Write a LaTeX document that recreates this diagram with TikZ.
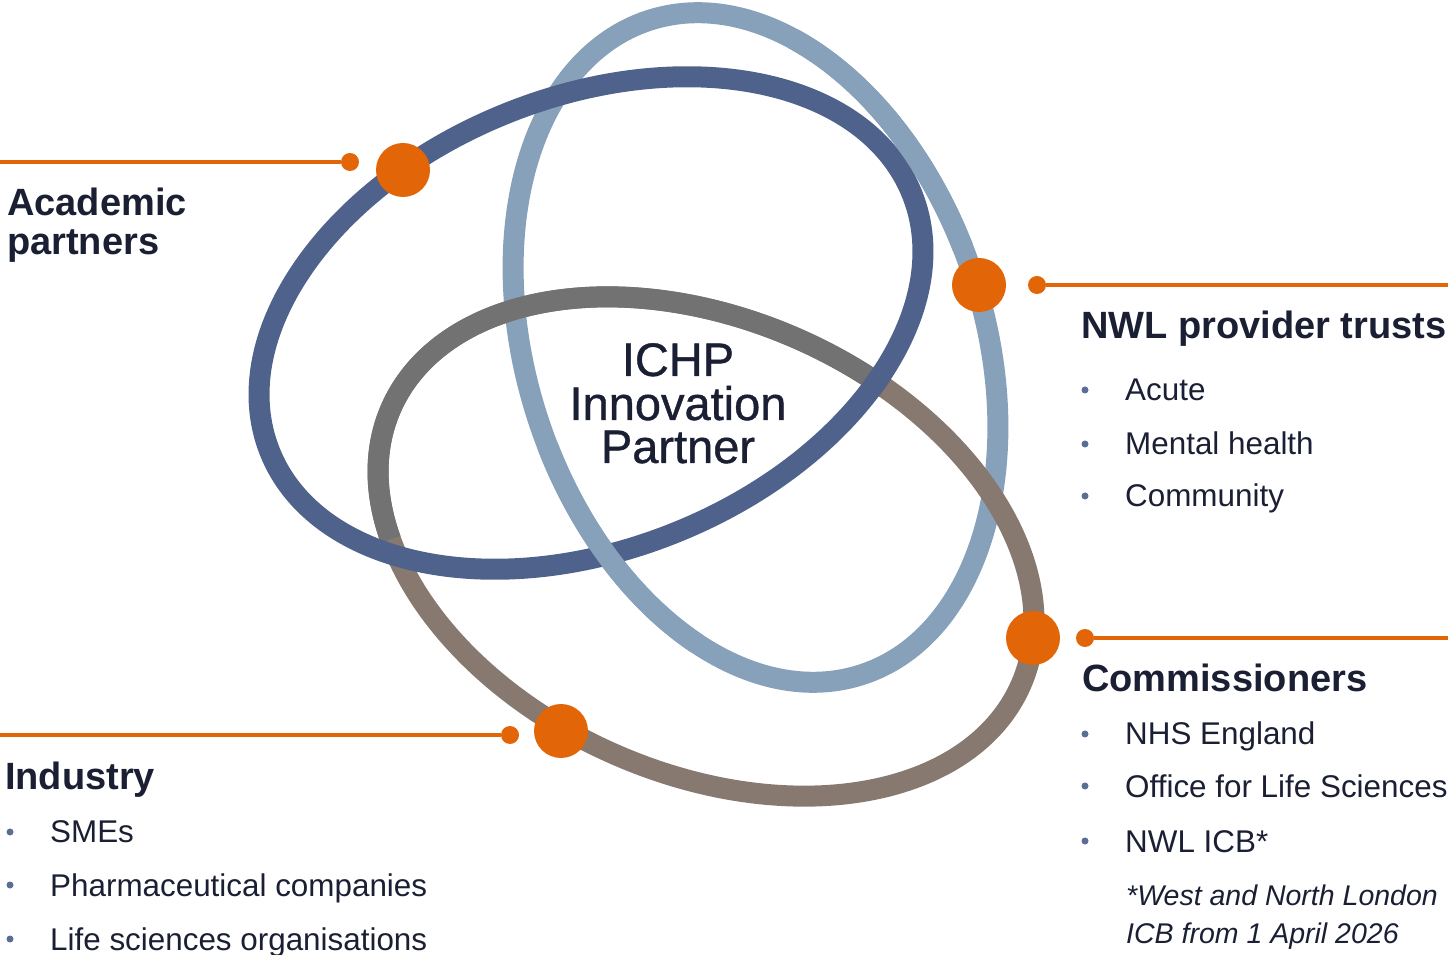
\documentclass[tikz,border=0pt]{standalone}
\usepackage{fontspec}
\setmainfont{Liberation Sans}
\newfontfamily\centrefont[FakeBold=0.8]{Liberation Sans}
\definecolor{dblue}{HTML}{4E628B}
\definecolor{lblue}{HTML}{87A1BA}
\definecolor{grayring}{HTML}{727272}
\definecolor{taupe}{HTML}{877970}
\definecolor{orng}{HTML}{E26608}
\definecolor{txt}{HTML}{1A1F33}
\definecolor{bul}{HTML}{5A6D95}
\begin{document}
\begin{tikzpicture}[x=1pt,y=1pt,
  ring/.style={line width=21pt},
  bigdot/.style={circle, fill=orng, minimum size=54pt, inner sep=0pt},
  smalldot/.style={circle, fill=orng, minimum size=18pt, inner sep=0pt},
  oline/.style={draw=orng, line width=4pt},
  heading/.style={anchor=base west, inner sep=0pt, text=txt, font=\fontsize{38}{40}\selectfont\bfseries},
  item/.style={anchor=base west, inner sep=0pt, text=txt, font=\fontsize{31.4}{36}\selectfont},
  note/.style={anchor=base west, inner sep=0pt, text=txt, font=\fontsize{28.5}{34}\selectfont\itshape},
  bulletdot/.style={circle, fill=bul, minimum size=7pt, inner sep=0pt},
  centre/.style={anchor=base, inner sep=0pt, text=txt, font=\centrefont\fontsize{47}{44}\selectfont}]
\useasboundingbox (0,0) rectangle (1452,954);

% light blue ring (underneath)
\begin{scope}[shift={(755.5,606.5)}, rotate=-72]
  \draw[ring, lblue] (0,0) ellipse [x radius=344pt, y radius=229pt];
\end{scope}
% grey / taupe ring
\begin{scope}[shift={(706,407.5)}, rotate=-23.7]
  \draw[ring, taupe] (0,0) ellipse [x radius=344pt, y radius=227pt];
  \draw[ring, grayring] (73:344pt and 227pt) arc[start angle=73, end angle=212, x radius=344pt, y radius=227pt];
\end{scope}
% dark blue ring
\begin{scope}[shift={(591,631)}, rotate=21.9]
  \draw[ring, dblue] (0,0) ellipse [x radius=346pt, y radius=226pt];
\end{scope}
% light blue passing over dark blue
\begin{scope}[shift={(755.5,606.5)}, rotate=-72]
  \draw[ring, lblue] (-85:344pt and 229pt) arc[start angle=-85, end angle=-40, x radius=344pt, y radius=229pt];
  \draw[ring, lblue] (95:344pt and 229pt) arc[start angle=95, end angle=145, x radius=344pt, y radius=229pt];
\end{scope}

% orange markers and leader lines
\node[bigdot] (acad) at (403,784) {};
\node[smalldot] (acads) at (350,792) {};
\coordinate (acadL) at (0,792);
\draw[oline] (acadL) -- (acads);

\node[bigdot] (nwl) at (979,669) {};
\node[smalldot] (nwls) at (1037,669) {};
\coordinate (nwlR) at (1448,669);
\draw[oline] (nwls) -- (nwlR);

\node[bigdot] (comm) at (1033,316) {};
\node[smalldot] (comms) at (1085,316) {};
\coordinate (commR) at (1448,316);
\draw[oline] (comms) -- (commR);

\node[bigdot] (ind) at (561,223) {};
\node[smalldot] (inds) at (510,219) {};
\coordinate (indL) at (0,219);
\draw[oline] (indL) -- (inds);

% centre text
\node[centre] (c1) at (678,578) {ICHP};
\node[centre] (c2) at (678,534) {Innovation};
\node[centre] (c3) at (678,491) {Partner};

% Academic partners
\node[heading] (acadT1) at (7,738) {Academic};
\node[heading] (acadT2) at (7,699) {partners};

% NWL provider trusts
\node[heading] (nwlT) at (1081,615) {NWL provider trusts};
\node[item] (n1) at (1125,553) {Acute};
\node[item] (n2) at (1125,499) {Mental health};
\node[item] (n3) at (1125,447) {Community};
\node[bulletdot] (nb1) at (1085,564) {};
\node[bulletdot] (nb2) at (1085,510) {};
\node[bulletdot] (nb3) at (1085,458) {};

% Commissioners
\node[heading] (commT) at (1082,262) {Commissioners};
\node[item] (m1) at (1125,209) {NHS England};
\node[item] (m2) at (1125,157) {Office for Life Sciences};
\node[item] (m3) at (1125,102) {NWL ICB*};
\node[bulletdot] (mb1) at (1085,220) {};
\node[bulletdot] (mb2) at (1085,168) {};
\node[bulletdot] (mb3) at (1085,113) {};
\node[note] (f1) at (1126,49) {*West and North London};
\node[note] (f2) at (1126,11) {ICB from 1 April 2026};

% Industry
\node[heading] (indT) at (5,164) {Industry};
\node[item] (i1) at (50,111) {SMEs};
\node[item] (i2) at (50,58) {Pharmaceutical companies};
\node[item] (i3) at (50,4) {Life sciences organisations};
\node[bulletdot] (ib1) at (10,122) {};
\node[bulletdot] (ib2) at (10,69) {};
\node[bulletdot] (ib3) at (10,15) {};
\end{tikzpicture}
\end{document}
